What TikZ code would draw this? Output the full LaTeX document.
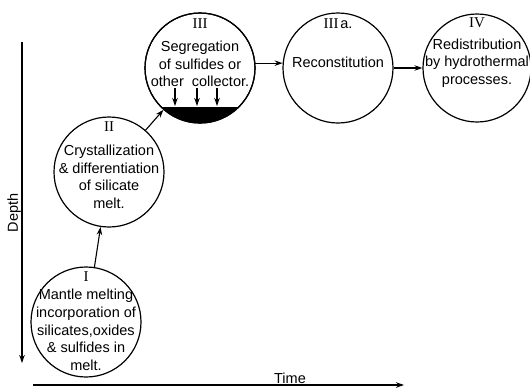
\documentclass[tikz,border=0pt]{standalone}
\usepackage{fontspec}
\setmainfont{Liberation Sans}
\newfontfamily\romanf{Liberation Serif}
\usetikzlibrary{arrows.meta}
\begin{document}
\begin{tikzpicture}[x=1pt,y=-1pt,
 stage/.style={circle,draw,line width=1.2pt,minimum size=110pt,inner sep=0pt},
 txt/.style={align=center,font=\fontsize{14.5}{17.6}\selectfont,inner sep=0pt},
 num/.style={font=\romanf\fontsize{15}{16}\selectfont,inner sep=0pt},
 arr/.style={-{Stealth[length=8pt,width=5.5pt]},line width=1.1pt},
]
\useasboundingbox (0,0) rectangle (530,389);
% circles
\node[stage] (c1) at (86,322) {};
\node[stage] (c2) at (109,172) {};
\node[stage] (c3) at (200,68) {};
\node[stage] (c4) at (338,68) {};
\node[stage,minimum size=108pt] (c5) at (477,68) {};
% collector segment
\begin{scope}
\clip (200,68) circle[radius=55];
\fill (140,107) rectangle (260,130);
\end{scope}
\node[stage] at (200,68) {};
% texts
\node[num] (n1) at (86,277) {I};
\node[txt] (t1) at (86,330) {Mantle melting\\incorporation of\\silicates,oxides\\\& sulfides in\\melt.};
\node[num] (n2) at (109,127) {II};
\node[txt] (t2) at (109,177) {Crystallization\\\& differentiation\\of silicate\\melt.};
\node[num] (n3) at (200,24) {III};
\node[txt] (t3) at (200,64) {Segregation\\of sulfides or\\other\ \ collector.};
\node[inner sep=0pt] (n4) at (338,24) {{\romanf\fontsize{15}{16}\selectfont III}\,{\fontsize{14.5}{16}\selectfont a.}};
\node[txt] (t4) at (338,62) {Reconstitution};
\node[num] (n5) at (477,23) {IV};
\node[txt] (t5) at (477,63) {Redistribution\\by hydrothermal\\processes.};
% small arrows in III
\coordinate (a1) at (175,88); \coordinate (b1) at (175,106);
\coordinate (a2) at (197,88); \coordinate (b2) at (197,106);
\coordinate (a3) at (217,88); \coordinate (b3) at (217,106);
\draw[arr] (a1) -- (b1);
\draw[arr] (a2) -- (b2);
\draw[arr] (a3) -- (b3);
% connectors
\draw[arr] (c1) -- (c2);
\draw[arr] (c2) -- (c3);
\draw[arr] (c3.5) -- (c4.175);
\draw[arr] (c4) -- (c5);
% axes
\coordinate (d0) at (22,42); \coordinate (d1) at (22,363);
\coordinate (h0) at (33,385); \coordinate (h1) at (404,385);
\draw[arr] (d0) -- (d1);
\draw[arr] (h0) -- (h1);
\node[rotate=90,anchor=south,inner sep=1pt,font=\fontsize{14.5}{16}\selectfont] (dl) at (d0|-0,213) {Depth};
\node[anchor=south,inner sep=1pt,font=\fontsize{14.5}{16}\selectfont] (tl) at (290,385) {Time};
\end{tikzpicture}
\end{document}
